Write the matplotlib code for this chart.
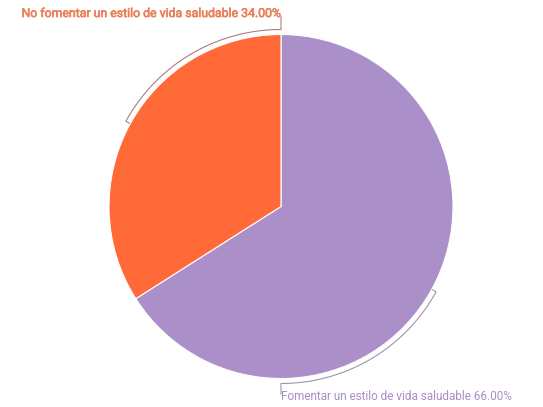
import numpy as np
import matplotlib.pyplot as plt
import matplotlib.patheffects as pe

labels = ['Fomentar un estilo de vida saludable', 'No fomentar un estilo de vida saludable']
values = [66.0, 34.0]
colors = ['#ab8fc9', '#ff6a38']
text_colors = ['#a68fc4', '#e9805a']
bracket_colors = ['#9d93ad', '#b07a7a']

W, H = 543, 407
fig = plt.figure(figsize=(W / 100, H / 100), dpi=100)
ax = fig.add_axes([0, 0, 1, 1])

cx, cy, r = 281, H - 206.5, 172
wedges, _ = ax.pie(values, colors=colors, startangle=90, counterclock=False,
                   radius=r, center=(cx, cy), frame=True,
                   wedgeprops=dict(edgecolor='white', linewidth=0.8))
ax.set_xlim(0, W)
ax.set_ylim(0, H)
ax.set_aspect('equal')
ax.axis('off')

# bracket arcs: from the middle of each slice round to the top / bottom of the pie
rb = r + 5
ends = [-90, 90]
tails = [H - 394, H - 17]
for i, w in enumerate(wedges):
    mid = (w.theta1 + w.theta2) / 2
    mid = (mid + 180) % 360 - 180
    a = np.radians(np.linspace(mid, ends[i], 100))
    xs = cx + rb * np.cos(a)
    ys = cy + rb * np.sin(a)
    m = np.radians(mid)
    xs = np.concatenate([[cx + (rb - 4) * np.cos(m)], xs, [xs[-1]]])
    ys = np.concatenate([[cy + (rb - 4) * np.sin(m)], ys, [tails[i]]])
    ax.plot(xs, ys, color=bracket_colors[i], lw=0.8)

pct = [f'{v:.2f}%' for v in values]
ax.text(cx, H - 396, f'{labels[0]} {pct[0]}', color=text_colors[0],
        fontsize=8.45, family='Roboto', ha='left', va='center')
# slightly heavier stroke for the small slice label
ax.text(cx - 1, H - 13.5, f'{labels[1]} {pct[1]}', color=text_colors[1],
        fontsize=8.85, family='Roboto', ha='right', va='center',
        path_effects=[pe.withStroke(linewidth=0.45, foreground=text_colors[1])])

fig.savefig('out.png', dpi=100)
